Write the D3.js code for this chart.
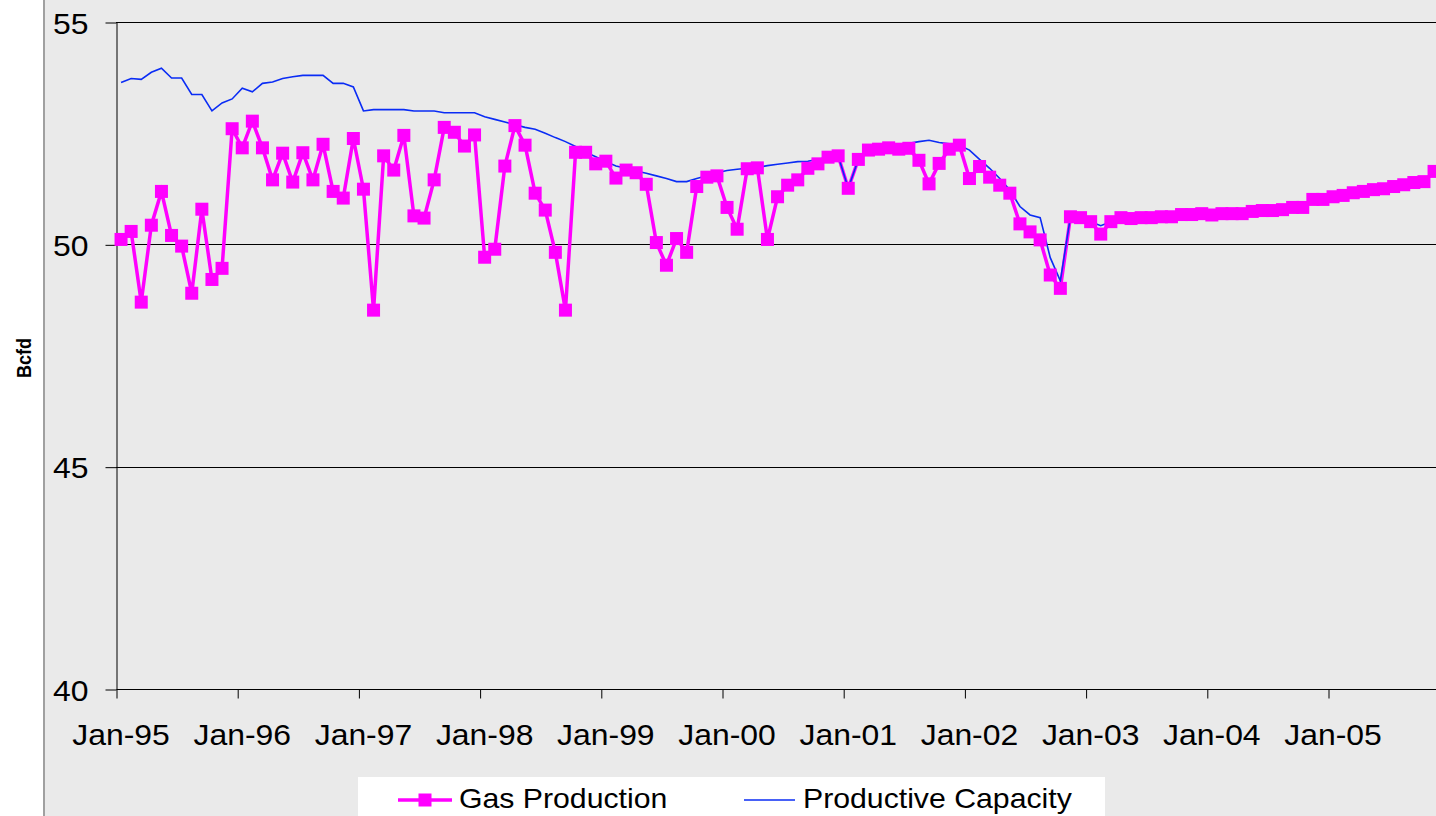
<!DOCTYPE html>
<html>
<head>
<meta charset="utf-8">
<script src="https://cdn.jsdelivr.net/npm/d3@7"></script>
<style>
  html, body { margin: 0; padding: 0; background: #ffffff; }
  svg { display: block; font-family: "Liberation Sans", Arial, sans-serif; }
</style>
</head>
<body>
<svg id="chart" width="1436" height="816"></svg>
<script>
// Monthly categories, Jan-1995 through Nov-2005
const months = d3.timeMonths(new Date(1995, 0, 1), new Date(2005, 11, 1));
const monthLabel = d3.timeFormat("%b-%y");

// Year tick labels on the category axis
const yearLabels = ["Jan-95", "Jan-96", "Jan-97", "Jan-98", "Jan-99", "Jan-00",
                    "Jan-01", "Jan-02", "Jan-03", "Jan-04", "Jan-05"];

// Value axis ticks (Bcfd)
const yTicks = [40, 45, 50, 55];

// Gas production, Bcfd
const gasProduction = [
  50.11, 50.29, 48.70, 50.43, 51.19, 50.20, 49.96, 48.90, 50.79, 49.21, 49.46, 52.60,
  52.17, 52.77, 52.17, 51.45, 52.05, 51.40, 52.06, 51.45, 52.25, 51.19, 51.04, 52.38,
  51.24, 48.52, 51.99, 51.67, 52.45, 50.64, 50.59, 51.45, 52.63, 52.52, 52.21, 52.46,
  49.71, 49.89, 51.76, 52.67, 52.23, 51.15, 50.77, 49.82, 48.52, 52.07, 52.07, 51.81,
  51.87, 51.49, 51.67, 51.61, 51.35, 50.04, 49.53, 50.13, 49.82, 51.30, 51.51, 51.54,
  50.83, 50.34, 51.70, 51.72, 50.11, 51.07, 51.33, 51.45, 51.71, 51.81, 51.96, 51.99,
  51.26, 51.91, 52.12, 52.14, 52.17, 52.14, 52.16, 51.89, 51.36, 51.82, 52.14, 52.23,
  51.48, 51.75, 51.51, 51.33, 51.15, 50.46, 50.28, 50.10, 49.31, 49.01, 50.62, 50.60,
  50.51, 50.23, 50.51, 50.60, 50.58, 50.60, 50.60, 50.62, 50.62, 50.67, 50.67, 50.69,
  50.66, 50.69, 50.69, 50.69, 50.74, 50.76, 50.76, 50.78, 50.83, 50.83, 51.01, 51.01,
  51.07, 51.10, 51.16, 51.19, 51.23, 51.25, 51.30, 51.34, 51.39, 51.41, 51.64
];

// Productive capacity, Bcfd
const productiveCapacity = [
  53.64, 53.73, 53.71, 53.87, 53.96, 53.74, 53.74, 53.37, 53.37, 53.00, 53.18, 53.27,
  53.51, 53.43, 53.62, 53.65, 53.73, 53.77, 53.80, 53.80, 53.80, 53.62, 53.62, 53.54,
  53.00, 53.03, 53.03, 53.03, 53.03, 53.00, 53.00, 53.00, 52.96, 52.96, 52.96, 52.96,
  52.87, 52.81, 52.75, 52.69, 52.63, 52.59, 52.50, 52.40, 52.31, 52.20, 52.07, 51.97,
  51.86, 51.76, 51.71, 51.65, 51.60, 51.54, 51.48, 51.41, 51.41, 51.48, 51.54, 51.61,
  51.66, 51.69, 51.71, 51.73, 51.77, 51.80, 51.83, 51.86, 51.87, 51.91, 51.96, 51.99,
  51.26, 51.91, 52.16, 52.18, 52.23, 52.25, 52.27, 52.31, 52.34, 52.29, 52.26, 52.23,
  52.12, 51.91, 51.71, 51.48, 51.22, 50.85, 50.66, 50.60, 49.70, 49.18, 50.62, 50.60,
  50.51, 50.42, 50.51, 50.60, 50.58, 50.60, 50.60, 50.62, 50.62, 50.67, 50.67, 50.69,
  50.66, 50.69, 50.69, 50.69, 50.74, 50.76, 50.76, 50.78, 50.83, 50.83, 51.01, 51.01,
  51.07, 51.10, 51.16, 51.19, 51.23, 51.25, 51.30, 51.34, 51.39, 51.41, 51.64
];

const seriesNames = ["Gas Production", "Productive Capacity"];
const gasColor = "#ff00ff";
const capColor = "#0a2cf5";
const bgColor = "#eaeaea";

const svg = d3.select("#chart");
const W = 1436, H = 816;

const plot = { left: 116, top: 22, bottom: 689 };
const catWidth = 10.1;
const nCat = months.length;

// Category position scale (continuous index so ticks can sit between categories)
const xIdx = d3.scaleLinear().domain([0, nCat]).range([plot.left, plot.left + nCat * catWidth]);
const xCenter = i => xIdx(i + 0.5);
const y = d3.scaleLinear().domain([40, 55]).range([plot.bottom, plot.top]);

// Chart area background and its left border
svg.append("rect").attr("x", 44).attr("y", 0).attr("width", W - 44).attr("height", H)
  .attr("fill", bgColor);
svg.append("line").attr("x1", 44).attr("x2", 44).attr("y1", 0).attr("y2", H)
  .attr("stroke", "#a0a0a0").attr("stroke-width", 2);

// Horizontal gridlines
svg.append("g").selectAll("line")
  .data(yTicks.filter(v => v > 40))
  .join("line")
  .attr("x1", plot.left).attr("x2", W)
  .attr("y1", d => Math.round(y(d)) + 0.5).attr("y2", d => Math.round(y(d)) + 0.5)
  .attr("stroke", "#000").attr("stroke-width", 1);

// Value axis
const yAxis = svg.append("g")
  .attr("transform", `translate(${plot.left + 0.5},0.5)`)
  .call(d3.axisLeft(y).tickValues(yTicks).tickSize(11).tickFormat(d3.format("d")).tickSizeOuter(0));
yAxis.select(".domain").attr("stroke", "#000");
yAxis.selectAll(".tick line").attr("stroke", "#000");
yAxis.selectAll(".tick text")
  .attr("x", null).attr("dy", null)
  .attr("transform", "translate(-28,10.5) scale(1.1,1)")
  .attr("text-anchor", "end")
  .attr("font-size", 29).attr("fill", "#000")
  .style("font-family", "'Liberation Sans', Arial, sans-serif");

// Category axis: tick marks at the start of each year
const yearStarts = yearLabels.map((_, k) => k * 12);
const xAxis = svg.append("g")
  .attr("transform", `translate(0.5,${Math.round(plot.bottom) + 0.5})`)
  .call(d3.axisBottom(xIdx).tickValues(yearStarts).tickSize(9).tickFormat("").tickSizeOuter(0));
xAxis.select(".domain").attr("stroke", "#000").attr("d", `M${plot.left},0H${W}`);
xAxis.selectAll(".tick line").attr("stroke", "#000");

// Year labels centred under the January category
svg.append("g").selectAll("text")
  .data(yearLabels)
  .join("text")
  .attr("transform", (d, k) => `translate(${xCenter(yearStarts[k])},745) scale(1.1,1)`)
  .attr("text-anchor", "middle")
  .attr("font-size", 29).attr("fill", "#000")
  .text(d => d);

// Axis title
svg.append("text")
  .attr("transform", "translate(31,358) rotate(-90) scale(1,1.15)")
  .attr("text-anchor", "middle")
  .attr("font-size", 18).attr("font-weight", "bold").attr("fill", "#000")
  .text("Bcfd");

// Series lines
const gasLine = d3.line().x((d, i) => xCenter(i)).y(d => y(d));
svg.append("path").datum(gasProduction)
  .attr("d", gasLine)
  .attr("fill", "none").attr("stroke", gasColor).attr("stroke-width", 3.5)
  .attr("stroke-linejoin", "miter");

svg.append("path").datum(productiveCapacity)
  .attr("d", gasLine)
  .attr("fill", "none").attr("stroke", capColor).attr("stroke-width", 1.6);

// Square markers for production
const mk = 13;
svg.append("g").selectAll("rect")
  .data(gasProduction)
  .join("rect")
  .attr("x", (d, i) => xCenter(i) - mk / 2)
  .attr("y", d => y(d) - mk / 2)
  .attr("width", mk).attr("height", mk)
  .attr("fill", gasColor)
  .append("title").text((d, i) => `${monthLabel(months[i])}: ${d}`);

// Legend
const legend = svg.append("g");
legend.append("rect").attr("x", 358).attr("y", 777).attr("width", 747).attr("height", 60)
  .attr("fill", "#ffffff");
legend.append("line").attr("x1", 398).attr("x2", 452).attr("y1", 800).attr("y2", 800)
  .attr("stroke", gasColor).attr("stroke-width", 3.5);
legend.append("rect").attr("x", 425 - mk / 2).attr("y", 800 - mk / 2)
  .attr("width", mk).attr("height", mk).attr("fill", gasColor);
legend.append("text")
  .attr("transform", "translate(459,808) scale(1.08,1)")
  .attr("font-size", 28).attr("fill", "#000").text(seriesNames[0]);
legend.append("line").attr("x1", 744).attr("x2", 795).attr("y1", 800).attr("y2", 800)
  .attr("stroke", capColor).attr("stroke-width", 1.6);
legend.append("text")
  .attr("transform", "translate(803,808) scale(1.08,1)")
  .attr("font-size", 28).attr("fill", "#000").text(seriesNames[1]);
</script>
</body>
</html>
